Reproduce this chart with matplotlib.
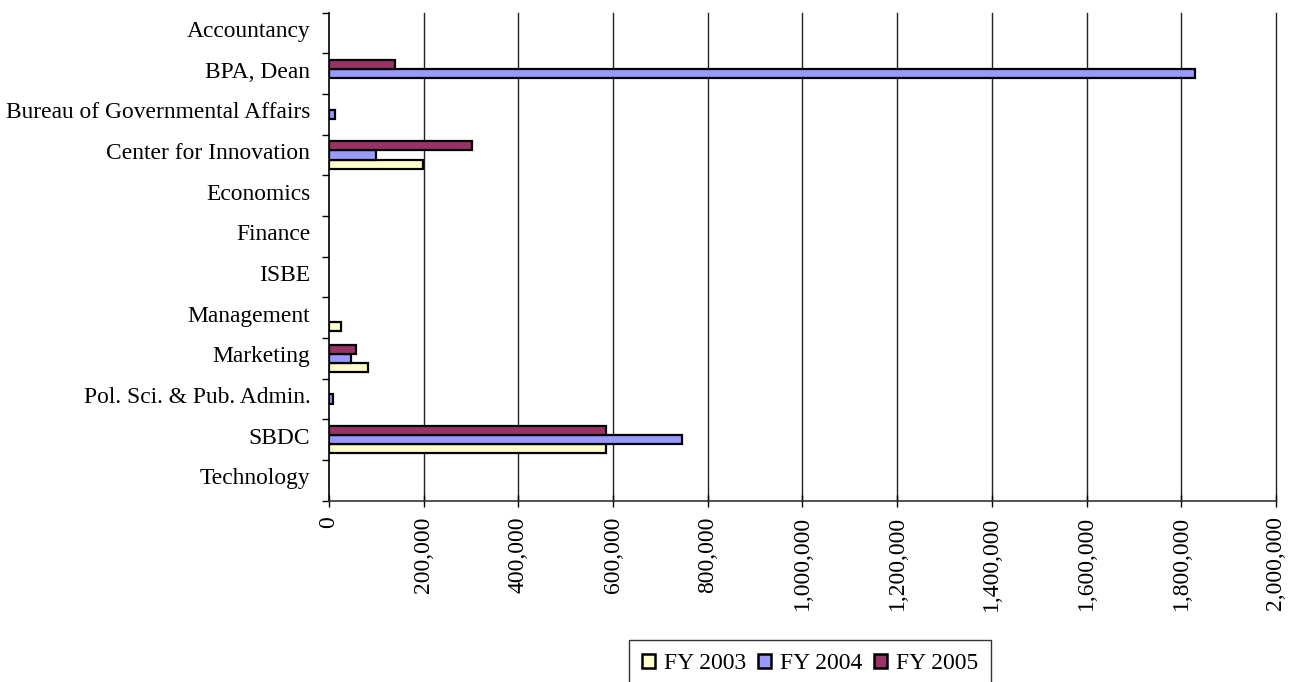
import numpy as np
import matplotlib
matplotlib.use("Agg")
import matplotlib.pyplot as plt
import matplotlib.transforms as mtransforms
from matplotlib.ticker import FixedLocator, StrMethodFormatter, MultipleLocator

categories = ["Accountancy", "BPA, Dean", "Bureau of Governmental Affairs",
              "Center for Innovation", "Economics", "Finance", "ISBE",
              "Management", "Marketing", "Pol. Sci. & Pub. Admin.", "SBDC",
              "Technology"]
fy2003 = [np.nan, np.nan, np.nan, 199000, np.nan, np.nan, np.nan, 25000, 82000, np.nan, 585000, np.nan]
fy2004 = [np.nan, 1828000, 12000, 99000, np.nan, np.nan, np.nan, np.nan, 46000, 8000, 745000, np.nan]
fy2005 = [np.nan, 139000, np.nan, 302000, np.nan, np.nan, np.nan, np.nan, 57000, np.nan, 585000, np.nan]
series_names = ["FY 2003", "FY 2004", "FY 2005"]
colors = ["#FFFFCC", "#9999FF", "#993366"]

plt.rcParams['font.family'] = ['Liberation Serif', 'DejaVu Serif']

fig = plt.figure(figsize=(12.89, 6.82), dpi=100)
ax = fig.add_axes([329/1289, 1-500.7/682, (1276-329)/1289, 488/682])

h = 0.225
y = np.arange(len(categories))
offsets = [h, 0, -h]  # FY2003 bottom, FY2005 top (axis inverted)
handles = []
for vals, off, c, name in zip([fy2003, fy2004, fy2005], offsets, colors, series_names):
    v = np.array(vals, dtype=float)
    m = np.isfinite(v)
    ax.barh(y[m] + off, v[m], height=h, color=c, edgecolor='black', linewidth=1.6, zorder=3)
    handles.append(plt.Rectangle((0, 0), 1, 1, facecolor=c, edgecolor='black', linewidth=1.8))

ax.set_xlim(0, 2000000)
ax.set_ylim(len(categories) - 0.5, -0.5)
ax.xaxis.set_major_locator(MultipleLocator(200000))
ax.xaxis.set_major_formatter(StrMethodFormatter('{x:,.0f}'))
for xv in np.arange(200000, 2000001, 200000):
    ax.axvline(xv, color='#222222', linewidth=1.0, zorder=0, clip_on=False)

ax.yaxis.set_major_locator(FixedLocator(np.arange(-0.5, len(categories), 1.0)))
ax.yaxis.set_minor_locator(FixedLocator(y))
ax.set_yticklabels([], minor=False)
ax.set_yticklabels(categories, minor=True)
ax.tick_params(axis='y', which='major', direction='out', length=5, width=1, color='black')
ax.tick_params(axis='y', which='minor', length=0, pad=13.5, labelsize=16.9)
ax.tick_params(axis='x', which='major', direction='inout', length=8.5, width=1,
               pad=7, labelsize=17, labelrotation=90)

shift = mtransforms.ScaledTranslation(0, 4/100, fig.dpi_scale_trans)
for lab in ax.get_yticklabels(minor=True):
    lab.set_transform(lab.get_transform() + shift)

for s in ['top', 'right']:
    ax.spines[s].set_visible(False)
ax.spines['left'].set_linewidth(1.2)
ax.spines['bottom'].set_linewidth(1.2)
ax.spines['bottom'].set_color('#333333')

leg = fig.legend(handles, series_names, loc='upper center', ncol=3,
                 bbox_to_anchor=(810/1289, 1-640/682), borderaxespad=0,
                 frameon=True, fancybox=False,
                 edgecolor='black', fontsize=17, handlelength=0.55, handleheight=0.55,
                 handletextpad=0.4, columnspacing=0.48, borderpad=0.55)
leg.get_frame().set_linewidth(1.0)

fig.savefig("out.png", dpi=100, facecolor='white')
